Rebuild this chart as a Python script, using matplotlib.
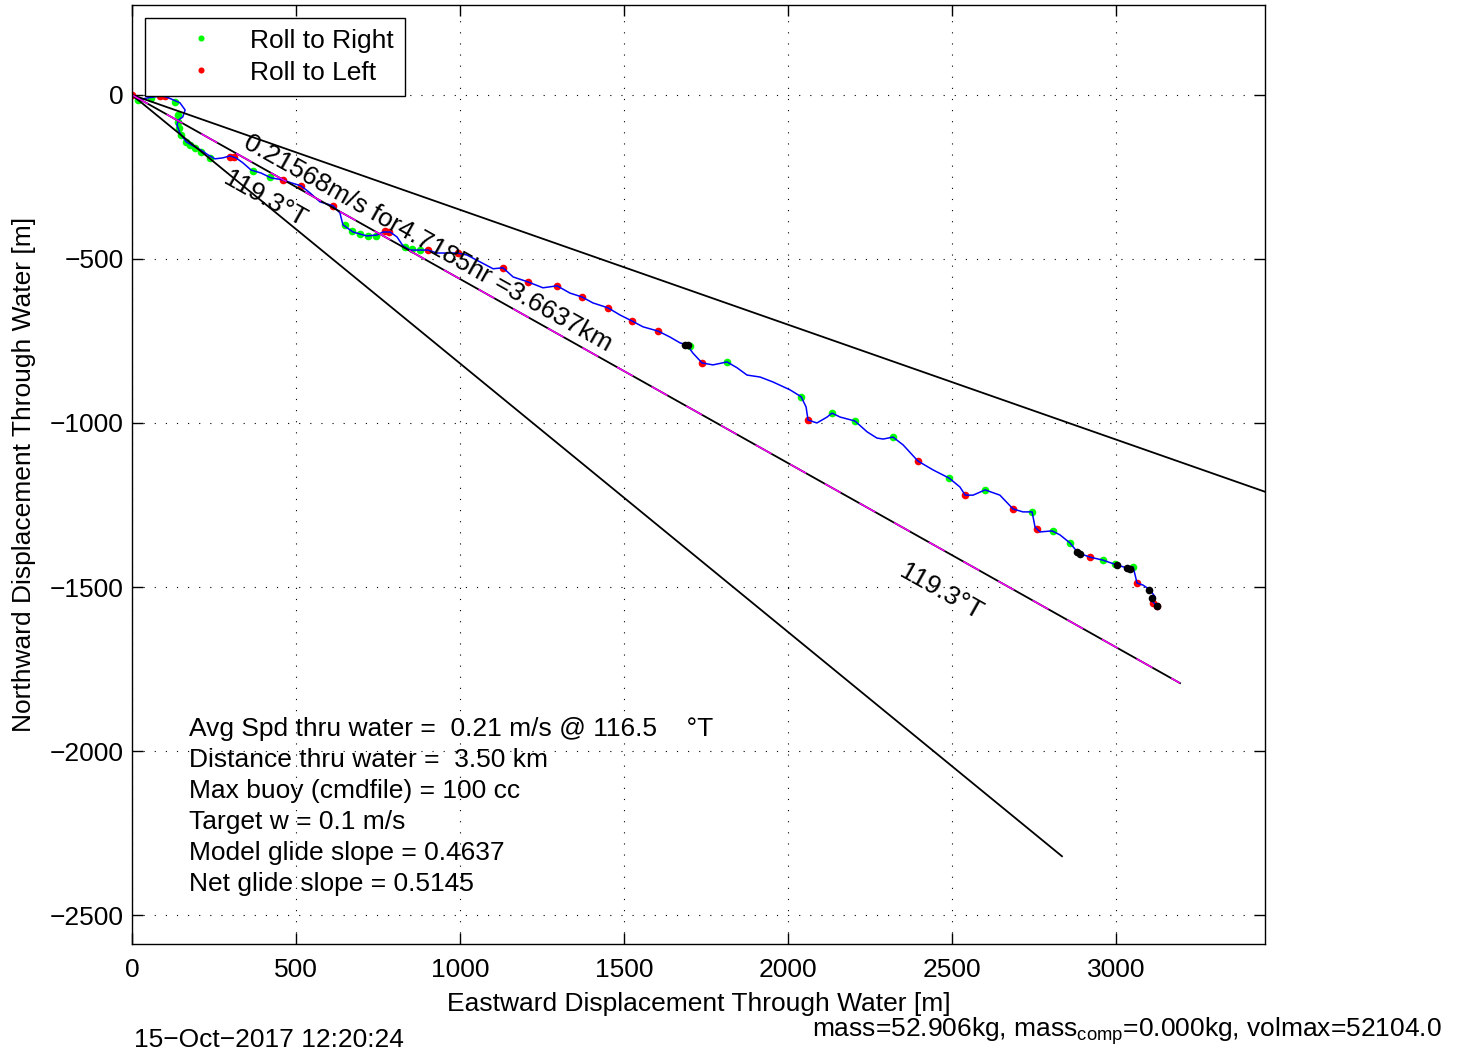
import numpy as np
import matplotlib
matplotlib.use("Agg")
import matplotlib.pyplot as plt

# --------------------------------------------------------------
# Data (metres)
# --------------------------------------------------------------
track_x = [0, 18, 49, 70, 88, 104, 125, 146, 162, 155, 143, 137, 146, 165, 192,
           210, 232, 253, 277, 299, 317, 338, 363, 393, 424, 460, 485, 515, 543,
           573, 613, 634, 643, 674, 716, 747, 765, 787, 808, 826, 848, 878, 902,
           930, 960, 991, 1021, 1061, 1101, 1131, 1162, 1207, 1253, 1296, 1335,
           1372, 1405, 1451, 1488, 1524, 1558, 1604, 1640, 1671, 1692, 1710,
           1738, 1771, 1814, 1845, 1875, 1915, 1954, 2006, 2040, 2055, 2061,
           2088, 2119, 2134, 2159, 2204, 2241, 2271, 2290, 2320, 2351, 2396,
           2442, 2491, 2524, 2540, 2564, 2601, 2646, 2686, 2716, 2744, 2753,
           2768, 2805, 2829, 2860, 2884, 2921, 2960, 3003, 3034, 3052, 3058,
           3064, 3082, 3104, 3119, 3113, 3125]
track_y = [0, -15, -9, -6, -3, -6, -15, -24, -46, -67, -76, -91, -116, -143, -159,
           -168, -183, -195, -192, -186, -192, -207, -229, -238, -253, -259, -268,
           -277, -299, -326, -338, -360, -396, -418, -430, -427, -418, -418, -433,
           -460, -473, -473, -473, -482, -482, -482, -488, -509, -530, -527, -555,
           -570, -588, -582, -604, -616, -634, -649, -671, -689, -707, -720, -738,
           -756, -762, -787, -817, -823, -814, -832, -854, -860, -875, -899, -920,
           -951, -991, -1000, -982, -970, -982, -994, -1027, -1046, -1049, -1043,
           -1067, -1116, -1143, -1168, -1195, -1220, -1220, -1204, -1220, -1262,
           -1271, -1271, -1317, -1332, -1329, -1341, -1366, -1396, -1409, -1418,
           -1433, -1442, -1439, -1463, -1488, -1494, -1509, -1530, -1546, -1558]

right_x = [18, 58, 131, 140, 140, 143, 149, 165, 177, 192, 210, 238, 369, 421,
           649, 671, 695, 720, 744, 832, 854, 878, 1701, 1814, 2040, 2134, 2204,
           2320, 2491, 2601, 2744, 2808, 2860, 2960, 2997, 3052]
right_y = [-15, -9, -21, -61, -82, -101, -122, -143, -152, -162, -174, -192,
           -232, -250, -396, -415, -424, -430, -430, -463, -470, -473, -765,
           -814, -920, -970, -994, -1043, -1168, -1204, -1271, -1329, -1366,
           -1418, -1430, -1439]

left_x = [0, 85, 101, 299, 311, 460, 515, 613, 771, 784, 902, 994, 1131, 1207,
          1296, 1372, 1451, 1524, 1604, 1738, 2061, 2396, 2540, 2686, 2759, 2921,
          3064, 3113, 3125]
left_y = [0, -3, -3, -189, -189, -259, -277, -338, -415, -418, -473, -482, -527,
          -570, -582, -616, -649, -689, -720, -817, -991, -1116, -1220, -1262,
          -1323, -1409, -1488, -1549, -1558]

other_x = [1686, 1695, 2881, 2890, 3003, 3034, 3043, 3101, 3110, 3125]
other_y = [-762, -762, -1393, -1399, -1433, -1442, -1445, -1509, -1533, -1558]

# heading lines: mean heading and +/- 10 deg
heading = 119.3
dist_m = 3663.7
headings = [heading - 10, heading, heading + 10]

info_lines = [
    "Avg Spd thru water =  0.21 m/s @ 116.5    \u00b0T",
    "Distance thru water =  3.50 km",
    "Max buoy (cmdfile) = 100 cc",
    "Target w = 0.1 m/s",
    "Model glide slope = 0.4637",
    "Net glide slope = 0.5145",
]

# --------------------------------------------------------------
# Plot settings
# --------------------------------------------------------------
plt.rcParams["font.family"] = ["Liberation Sans", "DejaVu Sans"]
plt.rcParams["mathtext.fontset"] = "custom"
plt.rcParams["mathtext.rm"] = "Liberation Sans"
plt.rcParams["mathtext.it"] = "Liberation Sans"
plt.rcParams["font.size"] = 19

fig = plt.figure(figsize=(14.68, 10.57), dpi=100)
ax = fig.add_axes([0.0899, 0.1069, 0.7718, 0.8884])

ax.plot(right_x, right_y, "o", color="#00ff00", ms=5.5, mec="none", label="Roll to Right")
ax.plot(left_x, left_y, "o", color="#ff0000", ms=5.5, mec="none", label="Roll to Left")
ax.plot(track_x, track_y, "-", color="#0000ff", lw=1.1)
ax.plot(other_x, other_y, "o", color="k", ms=5.5, mec="none")

for h in headings:
    ex = dist_m * np.sin(np.radians(h))
    ey = dist_m * np.cos(np.radians(h))
    ax.plot([0, ex], [0, ey], color="k", lw=1.3)
mx = dist_m * np.sin(np.radians(heading))
my = dist_m * np.cos(np.radians(heading))
ax.plot([0, mx], [0, my], color="#ff00ff", lw=1.1, dashes=(12, 14))

rot = heading - 90
ax.text(335, -159, "0.21568m/s for4.7185hr =3.6637km", rotation=-rot,
        rotation_mode="anchor", ha="left", va="baseline")
ax.text(274, -268, "119.3\u00b0T", rotation=-rot,
        rotation_mode="anchor", ha="left", va="baseline")
ax.text(2335, -1466, "119.3\u00b0T", rotation=-rot,
        rotation_mode="anchor", ha="left", va="baseline")

for i, line in enumerate(info_lines):
    ax.text(174, -1954 - i * 94.5, line, ha="left", va="baseline")

ax.set_xlim(0, 3454)
ax.set_ylim(-2588, 274)
ax.set_xticks(np.arange(0, 3001, 500))
ax.set_yticks(np.arange(-2500, 1, 500))
ax.grid(True, color="k", linestyle=(0, (1, 9)), lw=0.8)
ax.tick_params(direction="in", length=8, width=1, top=True, right=True)
ax.tick_params(axis="x", pad=10)
ax.tick_params(axis="y", pad=6)
for s in ax.spines.values():
    s.set_linewidth(1)

ax.set_xlabel("Eastward Displacement Through Water [m]", labelpad=7)
ax.set_ylabel("Northward Displacement Through Water [m]", labelpad=10)

leg = ax.legend(loc="upper left", bbox_to_anchor=(0.0115, 0.9865), borderaxespad=0,
                fancybox=False, edgecolor="k", framealpha=1, handlelength=3.4,
                handletextpad=0.15, borderpad=0.42, labelspacing=0.3, markerscale=0.8)
leg.get_frame().set_linewidth(1)

fig.text(134 / 1468, 1 - 1047 / 1057, "15\u2212Oct\u22122017 12:20:24", ha="left", va="baseline")
fig.text(812 / 1468, 1 - 1037 / 1057,
         r"mass=52.906kg, mass$_{\mathrm{comp}}$=0.000kg, volmax=52104.0",
         ha="left", va="baseline")

fig.savefig("out.png", dpi=100)
